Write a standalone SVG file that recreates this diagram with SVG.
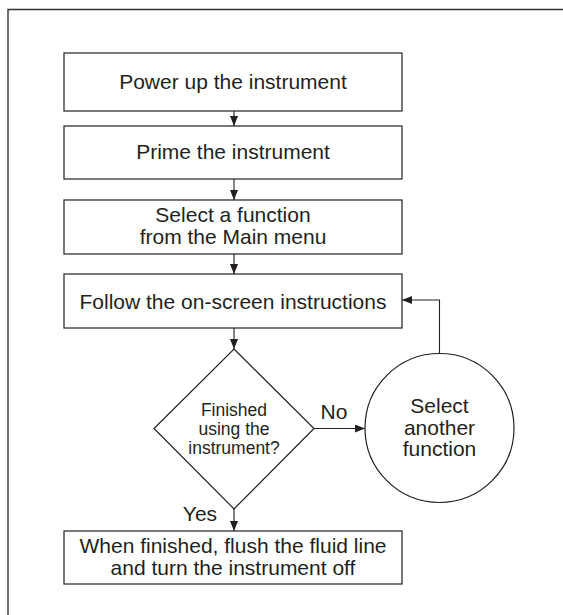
<svg xmlns="http://www.w3.org/2000/svg" width="563" height="615" viewBox="0 0 563 615">
<style>
.shape{fill:#fff;stroke:#231f20;stroke-width:1.2}
.t{font-family:"Liberation Sans",Arial,sans-serif;fill:#231f20;text-anchor:middle}
.b{font-size:21px}
.s{font-size:17.5px}
.c{font-size:21px}
.conn line,.conn polyline{fill:none;stroke:#231f20;stroke-width:1.1}
</style>
<defs>
<marker id="ah" viewBox="0 0 10 8" refX="10" refY="4" markerWidth="10" markerHeight="8" markerUnits="userSpaceOnUse" orient="auto">
<path d="M0,0 L10,4 L0,8 Z" fill="#231f20"/>
</marker>
</defs>
<rect width="563" height="615" fill="#fff"/>
<path d="M8,615 V9.5 H563" fill="none" stroke="#333" stroke-width="1.4"/>
<g id="power">
<rect class="shape" x="64" y="53" width="338" height="58"/>
<text class="t b" x="233" y="89">Power up the instrument</text>
</g>
<g id="prime">
<rect class="shape" x="64" y="126" width="338" height="53"/>
<text class="t b" x="233" y="159">Prime the instrument</text>
</g>
<g id="select">
<rect class="shape" x="64" y="200" width="338" height="54"/>
<text class="t b" x="233" y="222">Select a function</text>
<text class="t b" x="233" y="244">from the Main menu</text>
</g>
<g id="follow">
<rect class="shape" x="64" y="274" width="338" height="54"/>
<text class="t b" x="233" y="309">Follow the on-screen instructions</text>
</g>
<g id="decision">
<polygon class="shape" points="234,349 314,428.5 234,509 154,428.5"/>
<text class="t s" x="234" y="416">Finished</text>
<text class="t s" x="234" y="435">using the</text>
<text class="t s" x="234" y="454">instrument?</text>
</g>
<g id="another">
<circle class="shape" cx="439.5" cy="428" r="74.5"/>
<text class="t c" x="439.5" y="413">Select</text>
<text class="t c" x="439.5" y="435">another</text>
<text class="t c" x="439.5" y="456">function</text>
</g>
<g id="finish">
<rect class="shape" x="64" y="531" width="338" height="53"/>
<text class="t b" x="233" y="553">When finished, flush the fluid line</text>
<text class="t b" x="233" y="575">and turn the instrument off</text>
</g>
<g class="conn">
<line x1="234" y1="111" x2="234" y2="126" marker-end="url(#ah)"/>
<line x1="234" y1="179" x2="234" y2="200" marker-end="url(#ah)"/>
<line x1="234" y1="254" x2="234" y2="274" marker-end="url(#ah)"/>
<line x1="234" y1="328" x2="234" y2="349" marker-end="url(#ah)"/>
<line x1="314" y1="428.5" x2="365" y2="428.5" marker-end="url(#ah)"/>
<polyline points="439.5,353.5 439.5,300 402,300" marker-end="url(#ah)"/>
<line x1="234" y1="509" x2="234" y2="531" marker-end="url(#ah)"/>
<text class="t c" x="334" y="419">No</text>
<text class="t c" x="200" y="521">Yes</text>
</g>
</svg>
